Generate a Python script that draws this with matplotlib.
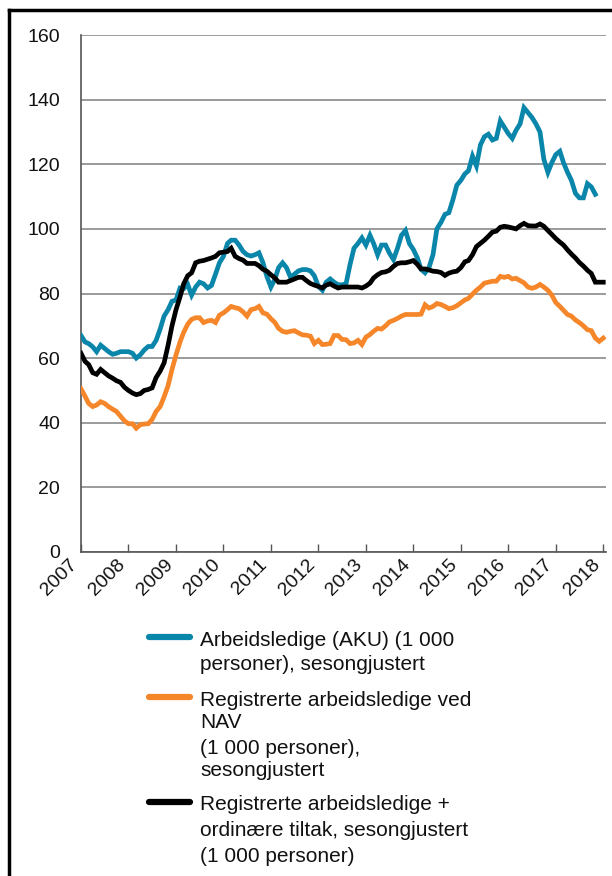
import matplotlib
matplotlib.use("Agg")
import matplotlib.pyplot as plt
import pandas as pd
import numpy as np
from matplotlib.lines import Line2D

plt.rcParams['font.family'] = ['Liberation Sans', 'DejaVu Sans']

# Monthly values, Jan 2007 onwards (1 000 persons)
aku = [67, 65, 64.5, 63.5, 62, 64, 63, 62, 61.2, 61.5, 62, 62,
       62, 61.5, 60, 61, 62.5, 63.6, 63.6, 65.5, 69, 73, 75, 77.6,
       78, 81.7, 81.5, 82.8, 79.5, 82, 83.5, 83, 81.7, 82.5, 86, 89.5,
       91.5, 95.5, 96.5, 96.5, 95, 93, 92, 91.6, 92, 92.6, 89.5, 85.3,
       82, 84.5, 88, 89.5, 88, 85, 86, 87, 87.4, 87.4, 87, 85.5,
       82.2, 81, 83.5, 84.5, 83.5, 82.7, 82.7, 83, 89, 94, 95.5, 97.2,
       95, 98, 95.5, 92, 95, 95, 92.5, 90.5, 94, 98, 99.5, 95.5,
       93.6, 91, 87.5, 86.4, 88, 92, 100, 102, 104.5, 105, 109, 113.5,
       115, 117, 118, 122.5, 119.5, 126, 128.5, 129.3, 127.5, 128, 133.4, 131.5,
       129.5, 128, 130.5, 132.5, 137.5, 136, 134.5, 132.5, 130, 121.5, 117.5, 120.5,
       123, 124, 120.5, 117.5, 115, 111, 109.6, 109.6, 114, 113, 110.7]

nav = [50.5, 48.2, 46, 45, 45.5, 46.5, 46, 45, 44.2, 43.5, 42, 40.6,
       39.7, 39.7, 38.3, 39.4, 39.6, 39.7, 41, 43.5, 45, 48, 51.5, 56.5,
       61, 65, 68, 70.5, 72, 72.5, 72.5, 71, 71.5, 71.7, 71, 73.3,
       74, 75, 76, 75.6, 75.3, 74.3, 73, 75, 75.3, 76, 74, 73.6,
       72.2, 71, 69.2, 68.3, 68, 68.3, 68.5, 67.8, 67.2, 67.1, 66.8, 64.5,
       65.5, 64.2, 64.3, 64.5, 67, 67, 65.8, 65.7, 64.5, 64.7, 65.5, 64.2,
       66.5, 67.3, 68.3, 69.2, 69, 70, 71.2, 71.7, 72.3, 73, 73.5, 73.5,
       73.5, 73.5, 73.6, 76.5, 75.5, 76, 76.9, 76.6, 76, 75.3, 75.6, 76.2,
       77.1, 78, 78.5, 79.8, 81, 82, 83.2, 83.5, 83.8, 83.8, 85.3, 85,
       85.3, 84.5, 84.7, 84, 83.3, 82, 81.6, 82, 82.8, 82, 81, 79.5,
       77.2, 76, 74.8, 73.5, 73, 71.8, 71, 70, 68.8, 68.5, 66.2, 65.2,
       66.2]

nav_tiltak = [61.5, 59, 58, 55.5, 55, 56.5, 55.5, 54.5, 53.8, 53, 52.5, 51,
              50, 49.2, 48.7, 49, 50, 50.3, 50.8, 54, 56, 58.5, 64, 70,
              75, 79, 83, 85.5, 86.4, 89.5, 90, 90.2, 90.6, 91, 91.5, 92.6,
              92.8, 93, 94, 91.5, 90.8, 90.3, 89.3, 89.3, 89.3, 88.6, 87.5, 86.9,
              85.8, 84.8, 83.5, 83.5, 83.5, 84, 84.5, 85, 85, 84, 83.1, 82.6,
              82.2, 81.7, 82.6, 83, 82.3, 81.7, 82, 82, 82, 82, 82, 81.7,
              82.3, 83.2, 84.8, 85.8, 86.5, 86.7, 87.2, 88.4, 89.3, 89.5, 89.5, 89.8,
              90.2, 89, 87.6, 87.6, 87.3, 86.9, 86.8, 86.5, 85.6, 86.3, 86.7, 86.9,
              88, 89.8, 90.2, 92, 94.5, 95.5, 96.5, 97.7, 99, 99.3, 100.5, 100.8,
              100.6, 100.3, 100, 101, 101.7, 101, 100.9, 100.9, 101.5, 100.8, 99.5, 98.3,
              97, 95.9, 95, 93.5, 92.2, 91, 89.6, 88.5, 87.2, 86.2, 83.5, 83.5,
              83.5]

years = list(range(2007, 2019))
y_ticks = [0, 20, 40, 60, 80, 100, 120, 140, 160]

labels = [
    ["Arbeidsledige (AKU) (1 000", "personer), sesongjustert"],
    ["Registrerte arbeidsledige ved", "NAV", "(1 000 personer),", "sesongjustert"],
    ["Registrerte arbeidsledige +", "ordinære tiltak, sesongjustert", "(1 000 personer)"],
]
colors = ['#0A86AA', '#F6862A', '#000000']

W, H = 612, 876
fig = plt.figure(figsize=(W / 100, H / 100), dpi=100)
ax = fig.add_axes([81 / W, 1 - 552 / H, (606 - 81) / W, (552 - 35) / H])

d_aku = pd.date_range('2007-01-01', periods=len(aku), freq='MS')
d_nav = pd.date_range('2007-01-01', periods=len(nav), freq='MS')
d_tilt = pd.date_range('2007-01-01', periods=len(nav_tiltak), freq='MS')

lw = 3.4
ax.plot(d_aku, aku, color=colors[0], lw=lw, solid_joinstyle='miter', zorder=3)
ax.plot(d_nav, nav, color=colors[1], lw=lw, solid_joinstyle='miter', zorder=3)
ax.plot(d_tilt, nav_tiltak, color=colors[2], lw=lw, solid_joinstyle='miter', zorder=4)

ax.set_ylim(0, 160)
ax.set_yticks(y_ticks)
ax.set_xlim(pd.Timestamp('2007-01-01'), pd.Timestamp('2018-01-22'))
ax.set_xticks([pd.Timestamp(f'{y}-01-01') for y in years])
ax.set_xticklabels([str(y) for y in years], rotation=45, ha='right')

ax.grid(axis='y', color='#8a8a8a', lw=1.2, zorder=0)
ax.set_axisbelow(True)
for s in ['top', 'right']:
    ax.spines[s].set_visible(False)
for s in ['left', 'bottom']:
    ax.spines[s].set_color('#555555')
    ax.spines[s].set_linewidth(1.2)

ax.tick_params(axis='y', length=0, pad=15, labelsize=14, labelcolor='#111111')
ax.tick_params(axis='x', direction='in', length=6, width=1, color='#555555',
               pad=3, labelsize=14, labelcolor='#111111')

# legend below the chart
handle_y = [637, 697, 802]
line_ys = [[641, 664], [700, 723, 748, 771], [805, 830, 857]]
for col, hy, lines, ys in zip(colors, handle_y, labels, line_ys):
    fig.add_artist(Line2D([149 / W, 190 / W], [1 - hy / H, 1 - hy / H],
                          color=col, lw=4.5, solid_capstyle='round',
                          transform=fig.transFigure))
    for txt, yy in zip(lines, ys):
        fig.text(200 / W, 1 - yy / H, txt, fontsize=15, color='#111111',
                 ha='left', va='center')

# frame lines on top and left edge
fig.add_artist(Line2D([8.5 / W, 8.5 / W], [0, 1 - 9.5 / H], color='black', lw=2.5,
                      transform=fig.transFigure))
fig.add_artist(Line2D([8.5 / W, 1], [1 - 9.5 / H, 1 - 9.5 / H], color='black', lw=2.5,
                      transform=fig.transFigure))

fig.savefig('out.png', dpi=100)
